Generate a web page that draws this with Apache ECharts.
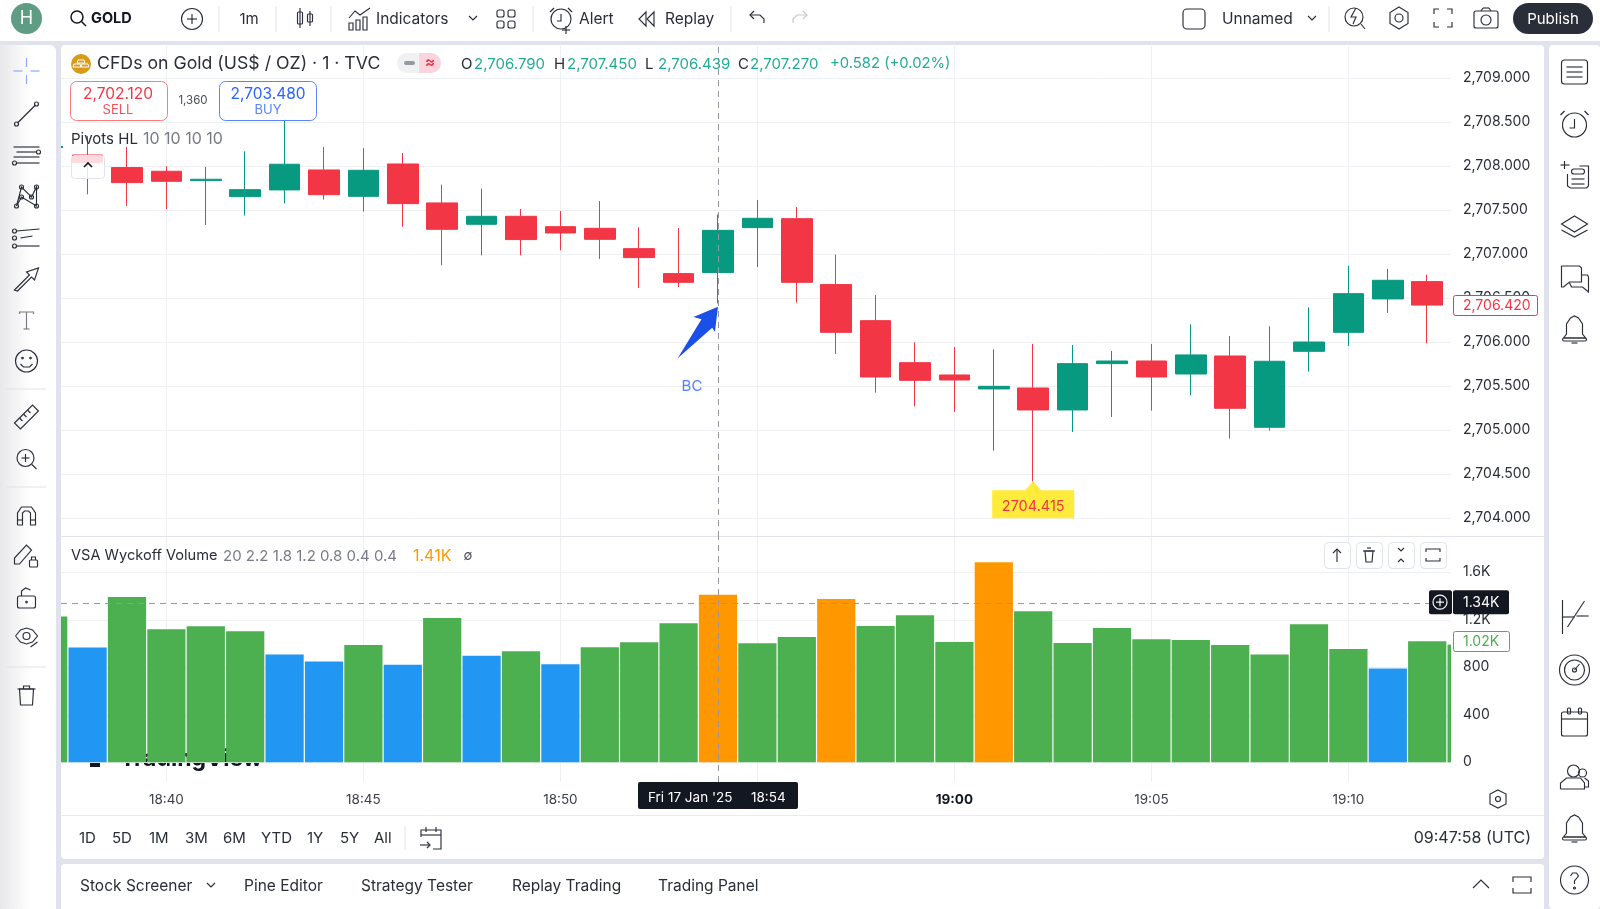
<!DOCTYPE html>
<html>
<head>
    <meta charset="utf-8">
    <title>GOLD 1m</title>
    <script src="https://cdn.jsdelivr.net/npm/echarts@6/dist/echarts.min.js"></script>
    <style>
        html, body { margin: 0; padding: 0; background: #e0e3eb; }
        #main { width: 1600px; height: 909px; }
    </style>
</head>
<body>
<div id="main"></div>

<script>
    // candles (18:54 comes from the OHLC header)
    var candleTimes = ['18:38','18:39','18:40','18:41','18:42','18:43','18:44','18:45','18:46','18:47','18:48','18:49','18:50','18:51','18:52','18:53','18:54','18:55','18:56','18:57','18:58','18:59','19:00','19:01','19:02','19:03','19:04','19:05','19:06','19:07','19:08','19:09','19:10','19:11','19:12'];
    var opens  = [2708.127,2707.984,2707.942,2707.836,2707.654,2707.730,2707.957,2707.657,2708.025,2707.582,2707.339,2707.430,2707.312,2707.293,2707.062,2706.778,2706.790,2707.301,2707.403,2706.653,2706.243,2705.765,2705.625,2705.466,2705.477,2705.227,2705.754,2705.784,2705.636,2705.841,2705.030,2705.894,2706.110,2706.490,2706.687];
    var closes = [2708.040,2707.813,2707.828,2707.851,2707.733,2708.022,2707.676,2707.953,2707.574,2707.282,2707.430,2707.165,2707.240,2707.168,2706.960,2706.679,2707.270,2707.407,2706.679,2706.110,2705.602,2705.564,2705.568,2705.496,2705.227,2705.754,2705.784,2705.602,2705.853,2705.246,2705.781,2706.000,2706.550,2706.702,2706.420];
    var lows   = [2707.680,2707.548,2707.510,2707.331,2707.438,2707.578,2707.620,2707.483,2707.312,2706.872,2706.986,2706.986,2707.043,2706.945,2706.615,2706.626,2706.439,2706.854,2706.448,2705.864,2705.424,2705.269,2705.204,2704.764,2704.415,2704.977,2705.147,2705.219,2705.394,2704.901,2704.992,2705.663,2705.955,2706.330,2705.985];
    var highs  = [2708.344,2708.219,2708.000,2707.991,2708.169,2708.514,2708.219,2708.204,2708.150,2707.790,2707.745,2707.513,2707.491,2707.604,2707.305,2707.297,2707.450,2707.616,2707.536,2706.994,2706.535,2705.997,2705.944,2705.917,2705.978,2705.966,2705.898,2705.978,2706.201,2706.069,2706.179,2706.395,2706.865,2706.831,2706.766];

    // volume pane
    var volumeTimes = ['18:37','18:38','18:39','18:40','18:41','18:42','18:43','18:44','18:45','18:46','18:47','18:48','18:49','18:50','18:51','18:52','18:53','18:54','18:55','18:56','18:57','18:58','18:59','19:00','19:01','19:02','19:03','19:04','19:05','19:06','19:07','19:08','19:09','19:10','19:11','19:12','19:13'];
    var volumes = [1227,966,1392,1120,1145,1103,907,848,988,822,1215,898,935,825,968,1011,1171,1410,1002,1055,1375,1148,1238,1013,1684,1272,1005,1131,1036,1030,988,907,1162,954,789,1020,991];
    var volumeKinds = ['normal','low','normal','normal','normal','normal','low','low','normal','low','normal','low','normal','low','normal','normal','normal','high','normal','normal','high','normal','normal','normal','high','normal','normal','normal','normal','normal','normal','normal','normal','normal','low','normal','normal'];

    // axis ticks
    var gridTimes = ['18:40','18:45','18:50','18:55','19:00','19:05','19:10'];
    var labelTimes = ['18:40','18:45','18:50','19:00','19:05','19:10'];
    var priceTicks = [2704,2704.5,2705,2705.5,2706,2706.5,2707,2707.5,2708,2708.5,2709];
    var volumeTicks = [0,400,800,1200,1600];

    // annotations
    var crossTime = '18:54';
    var crossVolume = 1340;
    var lastVolume = 1020;
    var lastPrice = 2706.420;
    var lowestPrice = 2704.415;
    var lowestTime = '19:02';
    var arrowTip = ['18:54', 2706.402];
    var bcMark = [1133.34, 2705.49];

    var FONT = 'Inter, "Noto Sans", sans-serif';
    var INK = '#2a2e39';
    var RED = '#f23645';
    var TEAL = '#089981';
    var HEADGREEN = '#22ab94';
    var LINE = '#eef0f4';
    var X_MIN = 1117.325, X_MAX = 1152.604;

    function toMinute(t) {
        var p = t.split(':');
        return +p[0] * 60 + +p[1];
    }
    function minuteLabel(v) {
        var m = v % 60;
        return Math.floor(v / 60) + ':' + (m < 10 ? '0' : '') + m;
    }
    function priceLabel(v) {
        return v.toFixed(3).replace(/^(\d)(\d{3})/, '$1,$2');
    }
    function volumeLabel(v) {
        return v >= 1000 ? (v / 1000).toFixed(1) + 'K' : '' + v;
    }

    // ---- screen furniture around the chart
    var furniture = [];

    function box(x, y, w, h, r, fill, stroke, z) {
        furniture.push({
            type: 'rect', z: z, silent: true,
            shape: { x: x, y: y, width: w, height: h, r: r },
            style: { fill: fill, stroke: stroke || null, lineWidth: 1 }
        });
    }
    function txt(s, x, y, size, color, align, weight, z) {
        furniture.push({
            type: 'text', z: z === undefined ? 50 : z, silent: true,
            style: {
                text: s, x: x, y: y + 1, fill: color || INK, fontSize: size, fontFamily: FONT,
                fontWeight: weight || 'normal', align: align || 'left', verticalAlign: 'middle'
            }
        });
    }
    function rule(x1, y1, x2, y2, color, z) {
        furniture.push({
            type: 'line', z: z === undefined ? 50 : z, silent: true,
            shape: { x1: x1, y1: y1, x2: x2, y2: y2 },
            style: { stroke: color, lineWidth: 1 }
        });
    }
    // parts: l line, o circle, b box, p polyline, g closed polygon
    function icon(cx, cy, parts, color, width) {
        var style = { fill: 'none', stroke: color || INK, lineWidth: width || 1.15 };
        parts.forEach(function (a) {
            var el;
            if (a[0] === 'l') el = { type: 'line', shape: { x1: cx + a[1], y1: cy + a[2], x2: cx + a[3], y2: cy + a[4] } };
            if (a[0] === 'o') el = { type: 'circle', shape: { cx: cx + a[1], cy: cy + a[2], r: a[3] } };
            if (a[0] === 'b') el = { type: 'rect', shape: { x: cx + a[1], y: cy + a[2], width: a[3], height: a[4], r: a[5] || 0 } };
            if (a[0] === 'p' || a[0] === 'g') {
                el = { type: a[0] === 'p' ? 'polyline' : 'polygon', shape: { points: a[1].map(function (q) { return [cx + q[0], cy + q[1]]; }) } };
            }
            el.z = 50;
            el.silent = true;
            el.style = style;
            furniture.push(el);
        });
    }

    var HEX = ['g', [[0,-11],[9,-5.5],[9,5.5],[0,11],[-9,5.5],[-9,-5.5]]];
    var BELL = [['p', [[-11,9],[-8,5],[-8,-5],[-4,-11],[0,-13],[4,-11],[8,-5],[8,5],[11,9],[-11,9]]], ['b', -12, 9, 24, 3, 1.5], ['l', -3, 14, 3, 14]];
    var ALARM = [['o', 0, 1, 10], ['p', [[0,-4],[0,3],[-4,3]]], ['l', -11, -6, -7, -10], ['l', 11, -6, 7, -10]];

    function drawFurniture() {
        // panels
        box(0, 0, 1600, 41, 0, '#fff', null, -10);
        box(0, 45, 56, 864, [0, 6, 0, 0], { type: 'linear', x: 0, y: 0, x2: 1, y2: 0, colorStops: [{ offset: 0, color: '#e8e8ea' }, { offset: 0.55, color: '#fff' }] }, null, -10);
        box(61, 45, 1483, 814, 4, '#fff', null, -10);
        box(61, 864, 1483, 50, 4, '#fff', null, -10);
        box(1549, 45, 51, 864, 4, '#fff', null, -10);
        rule(61, 536.5, 1544, 536.5, '#e0e3eb', 1);
        rule(61, 815.5, 1544, 815.5, '#e8eaf0', 1);

        // watermark, sits behind the volume bars
        txt('TradingView', 120, 758, 23, '#131722', 'left', 'bold', -5);
        furniture.push({
            type: 'polygon', z: -5, silent: true,
            shape: { points: [[79,752],[100,752],[100,767],[90,767],[90,758],[79,758]] },
            style: { fill: '#131722' }
        });

        // top toolbar
        furniture.push({ type: 'circle', z: 50, silent: true, shape: { cx: 26.5, cy: 18.5, r: 15.5 }, style: { fill: '#5f9c84' } });
        txt('H', 26.5, 18, 18, '#fff', 'center');
        icon(78, 18, [['o', -1, -1, 6], ['l', 3.5, 3.5, 8, 8]], '#131722', 1.5);
        txt('GOLD', 91, 18, 14.5, '#131722', 'left', 'bold');
        icon(192, 19, [['o', 0, 0, 10.5], ['l', -5, 0, 5, 0], ['l', 0, -5, 0, 5]]);
        [219, 276, 331, 533, 731, 1329].forEach(function (x) { rule(x, 6, x, 32, '#e0e3eb'); });
        txt('1m', 249, 18, 15, INK, 'center');
        icon(305, 18, [['l', -5, -10, -5, 10], ['b', -7.5, -6, 5, 12, 1], ['l', 5, -7, 5, 8], ['b', 2.5, -4, 5, 8, 1]]);
        icon(360, 19, [['p', [[-11,-1],[-5,-8],[0,-4],[10,-11]]], ['b', -11, 4, 4, 7], ['b', -4, 1, 4, 10], ['b', 3, -2, 4, 13]]);
        txt('Indicators', 376, 18, 15.5);
        icon(473, 18, [['p', [[-4,-2],[0,2],[4,-2]]]]);
        icon(506, 19, [['b', -9, -9, 7, 7, 2], ['b', 2, -9, 7, 7, 2], ['b', -9, 2, 7, 7, 2], ['b', 2, 2, 7, 7, 2]]);
        icon(561, 18, ALARM.concat([['l', 1, 12, 9, 12], ['l', 5, 8, 5, 16]]));
        txt('Alert', 579, 18, 15.5);
        icon(647, 19, [['g', [[-1,-7],[-8,0],[-1,7]]], ['g', [[7,-7],[0,0],[7,7]]]]);
        txt('Replay', 665, 18, 15.5);
        icon(757, 18, [['p', [[-3,-7],[-7,-3],[-3,1]]], ['p', [[-7,-3],[3,-3],[7,1],[7,5]]]]);
        icon(800, 18, [['p', [[3,-7],[7,-3],[3,1]]], ['p', [[7,-3],[-3,-3],[-7,1],[-7,5]]]], '#c4c7cf');
        icon(1194, 19, [['b', -11, -10, 22, 20, 4]]);
        txt('Unnamed', 1222, 18, 15.5);
        icon(1312, 18, [['p', [[-4,-2],[0,2],[4,-2]]]]);
        icon(1355, 18, [['o', -1, -1, 9], ['p', [[1,-10],[-4,-1],[1,-1],[-2,6]]], ['l', 6, 6, 10, 11]]);
        icon(1399, 18, [HEX, ['o', 0, 0, 4]]);
        icon(1443, 18, [['p', [[-9,-4],[-9,-9],[-4,-9]]], ['p', [[4,-9],[9,-9],[9,-4]]], ['p', [[-9,4],[-9,9],[-4,9]]], ['p', [[4,9],[9,9],[9,4]]]]);
        icon(1486, 19, [['b', -12, -8, 24, 17, 2], ['o', 0, 1, 5], ['l', -5, -8, -3, -11], ['l', -3, -11, 3, -11], ['l', 3, -11, 5, -8]]);
        box(1513, 3, 80, 31, 15.5, '#2a2e39', null, 50);
        txt('Publish', 1553, 18, 15, '#fff', 'center');

        // left toolbar
        icon(26.5, 71, [['l', 0, -13, 0, -4], ['l', 0, 4, 0, 13], ['l', -13, 0, -4, 0], ['l', 4, 0, 13, 0]], '#8ba7f5');
        icon(26.5, 114, [['l', -9, 9, 9, -9], ['o', -10, 10, 2], ['o', 10, -10, 2]]);
        icon(26.5, 155, [['l', -13, -8, 13, -8], ['l', -10, -3, 10, -3], ['o', 12, -3, 2], ['l', -13, 2, 13, 2], ['l', -10, 8, 13, 8], ['o', -12, 8, 2]]);
        icon(26.5, 196, [['p', [[-10,10],[-5,-9],[5,1],[10,-9],[10,10],[-5,1],[-10,10]]], ['o', -10, 10, 2], ['o', -5, -9, 2], ['o', 5, 1, 2], ['o', -5, 1, 2], ['o', 10, -9, 2], ['o', 10, 10, 2]]);
        icon(26.5, 238, [['l', -10, -7, 13, -9], ['o', -12, -7, 2], ['l', -6, 0, 6, -2], ['o', -12, 0, 2], ['l', -10, 8, 13, 8], ['o', -12, 8, 2]]);
        icon(26.5, 279, [['g', [[-12,11],[3,-4],[0,-7],[12,-11],[8,1],[5,-2],[-9,12]]]]);
        icon(26.5, 320, [['p', [[-7,-6],[-7,-8],[7,-8],[7,-6]]], ['l', 0, -8, 0, 9], ['l', -3, 9, 3, 9]], '#787b86');
        icon(26.5, 361, [['o', 0, 0, 11], ['o', -4, -3, 0.8], ['o', 4, -3, 0.8], ['p', [[-6,3],[-3,6],[3,6],[6,3]]]]);
        rule(6, 389, 46, 389, '#e0e3eb');
        icon(26.5, 417, [['g', [[-12,6],[6,-12],[12,-6],[-6,12]]], ['l', -7, 1, -4, 4], ['l', -3, -3, 0, 0], ['l', 1, -7, 4, -4]]);
        icon(26.5, 459, [['o', -1, -1, 8.5], ['l', -5, -1, 3, -1], ['l', -1, -5, -1, 3], ['l', 5.5, 5.5, 10, 10]]);
        rule(6, 487, 46, 487, '#e0e3eb');
        icon(26.5, 515, [['p', [[-9,10],[-9,-2],[-5,-8],[5,-8],[9,-2],[9,10],[4,10],[4,-2],[2,-4],[-2,-4],[-4,-2],[-4,10],[-9,10]]], ['l', -9, 5, -4, 5], ['l', 4, 5, 9, 5]]);
        icon(26.5, 556, [['g', [[-12,8],[-12,2],[0,-11],[5,-6],[-7,8]]], ['b', 3, 4, 8, 7, 1], ['p', [[5,4],[5,1],[9,1],[9,4]]]]);
        icon(26.5, 598, [['b', -9, -2, 18, 12, 2], ['p', [[-5,-2],[-5,-7],[-1,-10],[4,-8]]], ['o', 0, 4, 0.8]]);
        icon(26.5, 636, [['p', [[-11,0],[-6,-6],[0,-8],[6,-6],[11,0],[6,6],[0,8],[-6,6],[-11,0]]], ['o', 0, 0, 3.5], ['l', 4, 11, 11, 6]]);
        rule(6, 667, 46, 667, '#e0e3eb');
        icon(26.5, 695, [['g', [[-7,-6],[7,-6],[6,10],[-6,10]]], ['l', -9, -6, 9, -6], ['p', [[-3,-6],[-3,-9],[3,-9],[3,-6]]]]);

        // right toolbar
        icon(1574.5, 72, [['b', -13, -12, 26, 24, 3], ['l', -8, -5, 8, -5], ['l', -8, 0, 8, 0], ['l', -8, 5, 8, 5]]);
        icon(1574.5, 124, [['o', 0, 1, 12], ['p', [[0,-5],[0,4],[-5,4]]], ['l', -14, -9, -10, -13], ['l', 14, -9, 10, -13]]);
        icon(1574.5, 176, [['p', [[-7,-2],[-7,10],[-4,12],[12,12],[14,10],[14,-10],[5,-10]]], ['b', -3, -7, 13, 5, 2.5], ['l', -3, 3, 10, 3], ['l', -3, 8, 10, 8], ['l', -14, -11, -5, -11], ['l', -10, -15, -10, -7]]);
        icon(1574.5, 226, [['g', [[0,-10],[13,-2],[0,6],[-13,-2]]], ['p', [[-13,4],[0,11],[13,4]]]]);
        icon(1574.5, 278, [['p', [[-13,-12],[5,-12],[7,-10],[7,4],[-5,4],[-11,9],[-13,9],[-13,-12]]], ['p', [[7,-3],[13,-3],[14,-1],[14,14],[8,9],[-3,9],[-5,5]]]]);
        icon(1574.5, 329, BELL);
        icon(1574.5, 617, [['l', -12, -17, -12, 17], ['l', -12, 0, 0, 0], ['l', -7, 10, 10, -16], ['l', 2, -1, 14, -1]]);
        icon(1574.5, 670, [['o', 0, 0, 15], ['o', 0, 0, 10], ['o', 0, 0, 2], ['l', 0, 0, 5, -6]]);
        icon(1574.5, 723, [['b', -13, -11, 26, 24, 2], ['l', -13, -4, 13, -4], ['b', -7, -15, 3, 6, 1], ['b', 4, -15, 3, 6, 1]]);
        icon(1574.5, 777, [['o', -1, -6, 6], ['o', 8, -4, 4], ['p', [[-14,12],[-14,6],[-8,1],[6,1],[10,6],[10,12],[-14,12]]], ['p', [[10,1],[14,4],[14,10],[10,10]]]]);
        icon(1574.5, 828, BELL);
        icon(1574.5, 880, [['o', 0, 0, 14], ['p', [[-4,-4],[-2,-7],[2,-7],[4,-4],[0,1],[0,4]]], ['o', 0, 8, 1]]);

        // chart header
        furniture.push({ type: 'circle', z: 50, silent: true, shape: { cx: 81, cy: 64, r: 10 }, style: { fill: '#d99a17' } });
        icon(81, 64, [['g', [[-3,-4],[3,-4],[4,-1],[-4,-1]]], ['g', [[-7,0],[-1,0],[0,3],[-8,3]]], ['g', [[1,0],[7,0],[8,3],[0,3]]]], '#fff', 1);
        txt('CFDs on Gold (US$ / OZ) · 1 · TVC', 97, 63, 17.7);
        box(397, 53, 44, 20, 10, '#f0f1f3', null, 50);
        box(419, 53, 22, 20, [0, 10, 10, 0], '#fbd5de', null, 50);
        box(404, 61, 11, 4, 2, '#9598a1', null, 50);
        txt('≈', 430, 61, 15, RED, 'center', 'bold');
        txt('O', 461, 63, 15, INK);
        txt('2,706.790', 474, 63, 15, HEADGREEN);
        txt('H', 554, 63, 15, INK);
        txt('2,707.450', 567, 63, 15, HEADGREEN);
        txt('L', 645, 63, 15, INK);
        txt('2,706.439', 658, 63, 15, HEADGREEN);
        txt('C', 738, 63, 15, INK);
        txt('2,707.270', 750, 63, 15, HEADGREEN);
        txt('+0.582 (+0.02%)', 830, 63, 14.8, HEADGREEN);

        box(70.5, 81.5, 97, 39, 6, '#fff', '#f77c80', 50);
        txt('2,702.120', 118, 93, 15.5, RED, 'center');
        txt('SELL', 118, 109, 13, '#f7525f', 'center');
        txt('1,360', 193, 100, 11.5, '#4a4e59', 'center');
        box(219.5, 81.5, 97, 39, 6, '#fff', '#5b85f7', 50);
        txt('2,703.480', 268, 93, 15.5, '#2962ff', 'center');
        txt('BUY', 268, 109, 13, '#5b85f7', 'center');

        txt('Pivots HL', 71, 138, 15);
        txt('10 10 10 10', 143, 138, 16, '#787b86');
        box(61, 146, 2, 2, 0, TEAL, null, 50);
        box(71.5, 155.5, 33, 23, 3, 'rgba(255,255,255,0.82)', '#e0e3eb', 50);
        icon(88, 165, [['p', [[-4,2],[0,-2],[4,2]]]], '#131722', 1.6);

        // volume header
        txt('VSA Wyckoff Volume', 71, 555, 14.6);
        txt('20 2.2 1.8 1.2 0.8 0.4 0.4', 223, 555, 15, '#787b86');
        txt('1.41K', 413, 555, 16, '#ff9800');
        txt('∅', 468, 555, 13, '#4a4e59', 'center');

        // pane buttons
        [1324, 1356, 1388, 1420].forEach(function (x) { box(x + 0.5, 542.5, 26, 26, 4, '#fff', '#e0e3eb', 50); });
        icon(1337, 555, [['l', 0, -6, 0, 7], ['p', [[-4,-2],[0,-6],[4,-2]]]]);
        icon(1369, 555, [['g', [[-4,-4],[4,-4],[3,7],[-3,7]]], ['l', -6, -4, 6, -4], ['l', -2, -7, 2, -7]]);
        icon(1401, 555, [['p', [[-3,-7],[0,-4],[3,-7]]], ['p', [[-3,7],[0,4],[3,7]]]]);
        icon(1433, 555, [['p', [[-7,-3],[-7,-6],[7,-6],[7,-3]]], ['p', [[-7,3],[-7,6],[7,6],[7,3]]]]);

        // time scale
        box(638, 782, 160, 27, 2, '#131722', null, 50);
        txt("Fri 17 Jan '25", 648, 797, 13.5, '#fff');
        txt('18:54', 751, 797, 13.5, '#fff');
        icon(1498, 799, [['g', [[0,-9],[8,-5],[8,5],[0,9],[-8,5],[-8,-5]]], ['o', 0, 0, 2.5]]);

        // range bar
        [['1D',79],['5D',112],['1M',149],['3M',185],['6M',223],['YTD',261],['1Y',307],['5Y',340],['All',374]].forEach(function (r) {
            txt(r[0], r[1], 837, 15);
        });
        rule(405, 826, 405, 850, '#e0e3eb');
        icon(431, 838, [['p', [[-10,-1],[-10,-8],[10,-8],[10,11],[2,11]]], ['l', -10, -3, 10, -3], ['l', -5, -11, -5, -6], ['l', 5, -11, 5, -6], ['l', -11, 7, -1, 7], ['p', [[-4,4],[-1,7],[-4,10]]]]);
        txt('09:47:58 (UTC)', 1531, 837, 16, INK, 'right');

        // bottom tabs
        [['Stock Screener',80],['Pine Editor',244],['Strategy Tester',361],['Replay Trading',512],['Trading Panel',658]].forEach(function (r) {
            txt(r[0], r[1], 885, 15.5);
        });
        icon(211, 885, [['p', [[-4,-2],[0,2],[4,-2]]]]);
        icon(1481, 884, [['p', [[-8,4],[0,-4],[8,4]]]]);
        icon(1522, 885, [['p', [[-9,-3],[-9,-8],[9,-8],[9,-3]]], ['p', [[-9,3],[-9,8],[9,8],[9,3]]]]);
    }
    drawFurniture();

    // ---- chart marks tied to the axes
    function renderVolume(params, api) {
        var x = api.coord([api.value(0), 0]);
        var top = api.coord([api.value(0), api.value(1)]);
        var w = api.size([1, 0])[0] * 0.97;
        var rect = echarts.graphic.clipRectByRect(
            { x: x[0] - w / 2, y: top[1], width: w, height: x[1] - top[1] },
            { x: params.coordSys.x, y: params.coordSys.y, width: params.coordSys.width, height: params.coordSys.height }
        );
        return rect && {
            type: 'rect', shape: rect,
            style: { fill: kindColors[volumeKinds[params.dataIndex]] }
        };
    }
    function renderArrow(params, api) {
        var tip = api.coord([api.value(0), api.value(1)]);
        var offsets = [[0,0],[-24.5,10.3],[-16.5,12.7],[-40.3,51.7],[-5.8,21],[-3.1,25.3]];
        return {
            type: 'polygon',
            shape: { points: offsets.map(function (o) { return [tip[0] + o[0], tip[1] + o[1]]; }) },
            style: { fill: '#1a4fe8' }
        };
    }
    function renderLowest(params, api) {
        var p = api.coord([api.value(0), api.value(1)]);
        return {
            type: 'group',
            children: [
                { type: 'polygon', shape: { points: [[p[0], p[1]], [p[0] + 8, p[1] + 9], [p[0] + 41, p[1] + 9], [p[0] + 41, p[1] + 37], [p[0] - 41, p[1] + 37], [p[0] - 41, p[1] + 9], [p[0] - 8, p[1] + 9]] }, style: { fill: '#ffeb3b' } },
                { type: 'text', style: { text: lowestPrice.toFixed(3), x: p[0], y: p[1] + 25, fill: RED, font: '14.5px ' + FONT, align: 'center', verticalAlign: 'middle' } }
            ]
        };
    }
    function renderTag(text, fill, stroke, color, w) {
        return function (params, api) {
            var p = api.coord([api.value(0), api.value(1)]);
            return {
                type: 'group',
                children: [
                    { type: 'rect', shape: { x: p[0] + 2.5, y: Math.round(p[1]) - 9.5, width: w, height: 20, r: 2 }, style: { fill: fill, stroke: stroke, lineWidth: 1 } },
                    { type: 'text', style: { text: text, x: p[0] + 12, y: p[1] + 1, fill: color, font: '14px ' + FONT, align: 'left', verticalAlign: 'middle' } }
                ]
            };
        };
    }
    function renderCrossTag(params, api) {
        var p = api.coord([api.value(0), api.value(1)]);
        var cx = p[0] - 11;
        return {
            type: 'group',
            children: [
                { type: 'rect', shape: { x: p[0] - 22, y: p[1] - 13, width: 23, height: 24, r: 2 }, style: { fill: '#131722' } },
                { type: 'circle', shape: { cx: cx, cy: p[1] - 1, r: 7 }, style: { fill: 'none', stroke: '#fff', lineWidth: 1.2 } },
                { type: 'line', shape: { x1: cx - 4, y1: p[1] - 1, x2: cx + 4, y2: p[1] - 1 }, style: { stroke: '#fff', lineWidth: 1.2 } },
                { type: 'line', shape: { x1: cx, y1: p[1] - 5, x2: cx, y2: p[1] + 3 }, style: { stroke: '#fff', lineWidth: 1.2 } },
                { type: 'rect', shape: { x: p[0] + 2, y: p[1] - 13, width: 56, height: 24, r: 2 }, style: { fill: '#131722' } },
                { type: 'text', style: { text: (crossVolume / 1000).toFixed(2) + 'K', x: p[0] + 12, y: p[1], fill: '#fff', font: '14px ' + FONT, align: 'left', verticalAlign: 'middle' } }
            ]
        };
    }

    var kindColors = { normal: '#4caf50', low: '#2196f3', high: '#ff9800' };

    var candleData = candleTimes.map(function (t, i) {
        return [toMinute(t), opens[i], closes[i], lows[i], highs[i]];
    });
    var volumeData = volumeTimes.map(function (t, i) {
        return [toMinute(t), volumes[i]];
    });

    function crossLine(extra) {
        return {
            symbol: 'none', silent: true, animation: false,
            label: { show: false },
            lineStyle: { color: '#9598a1', type: [6, 5], width: 1 },
            data: extra
        };
    }

    function timeAxis(gridIndex, withLabels) {
        return {
            type: 'value', gridIndex: gridIndex, min: X_MIN, max: X_MAX, scale: true,
            axisLine: { show: false },
            axisTick: { show: false, customValues: gridTimes.map(toMinute) },
            splitLine: { show: true, lineStyle: { color: LINE, width: 1 } },
            axisLabel: {
                show: withLabels, margin: 11, fontFamily: FONT, fontSize: 13.5, color: '#3a3e49',
                customValues: labelTimes.map(toMinute), hideOverlap: false,
                formatter: function (v) {
                    var s = minuteLabel(v);
                    return s === '19:00' ? '{bold|' + s + '}' : s;
                },
                rich: { bold: { fontWeight: 'bold', fontFamily: FONT, fontSize: 13.5, color: '#131722' } }
            }
        };
    }

    var chart = echarts.init(document.getElementById('main'), null, { width: 1600, height: 909 });
    chart.setOption({
        animation: false,
        backgroundColor: '#e0e3eb',
        textStyle: { fontFamily: FONT },
        grid: [
            { left: 61, width: 1390, top: 46, height: 491 },
            { left: 61, width: 1390, top: 537, height: 245 }
        ],
        xAxis: [timeAxis(0, false), timeAxis(1, true)],
        yAxis: [
            {
                type: 'value', gridIndex: 0, position: 'right', min: 2703.782, max: 2709.367, scale: true,
                axisLine: { show: false },
                axisTick: { show: false, customValues: priceTicks },
                splitLine: { show: true, lineStyle: { color: LINE, width: 1 } },
                axisLabel: {
                    customValues: priceTicks, margin: 12, fontFamily: FONT, fontSize: 14, color: '#2a2e39',
                    formatter: priceLabel
                }
            },
            {
                type: 'value', gridIndex: 1, position: 'right', min: -166, max: 1897,
                axisLine: { show: false },
                axisTick: { show: false, customValues: volumeTicks },
                splitLine: { show: true, lineStyle: { color: LINE, width: 1 } },
                axisLabel: {
                    customValues: volumeTicks, margin: 12, fontFamily: FONT, fontSize: 14, color: '#2a2e39',
                    padding: [2, 0, 0, 0], formatter: volumeLabel
                }
            }
        ],
        graphic: { elements: furniture },
        series: [
            {
                type: 'candlestick', name: 'GOLD', xAxisIndex: 0, yAxisIndex: 0,
                data: candleData,
                encode: { x: 0, y: [1, 2, 3, 4] },
                barWidth: 31,
                itemStyle: { color: TEAL, color0: RED, borderColor: TEAL, borderColor0: RED, borderWidth: 1 },
                markLine: crossLine([{ xAxis: toMinute(crossTime) }])
            },
            {
                // the two outer bars are cut off by the pane, a bar series on a value axis does not clip them
                type: 'custom', name: 'VSA Wyckoff Volume', xAxisIndex: 1, yAxisIndex: 1, z: 2, silent: true,
                data: volumeData,
                encode: { x: 0, y: 1 },
                renderItem: renderVolume,
                markLine: crossLine([{ xAxis: toMinute(crossTime) }, { yAxis: crossVolume }])
            },
            {
                type: 'custom', name: 'arrow', xAxisIndex: 0, yAxisIndex: 0, z: 6, silent: true,
                data: [[toMinute(arrowTip[0]), arrowTip[1]]],
                renderItem: renderArrow
            },
            {
                type: 'scatter', name: 'BC', xAxisIndex: 0, yAxisIndex: 0, symbolSize: 0, silent: true,
                data: [bcMark],
                label: { show: true, position: 'inside', formatter: 'BC', color: '#2962ff', fontSize: 15, fontFamily: FONT }
            },
            {
                type: 'custom', name: 'lowest', xAxisIndex: 0, yAxisIndex: 0, z: 6, silent: true,
                data: [[toMinute(lowestTime), lowestPrice]],
                renderItem: renderLowest
            },
            {
                type: 'custom', name: 'last price', xAxisIndex: 0, yAxisIndex: 0, z: 6, silent: true,
                data: [[X_MAX, lastPrice]],
                renderItem: renderTag(priceLabel(lastPrice), '#fff', RED, RED, 84)
            },
            {
                type: 'custom', name: 'last volume', xAxisIndex: 1, yAxisIndex: 1, z: 6, silent: true,
                data: [[X_MAX, lastVolume]],
                renderItem: renderTag((lastVolume / 1000).toFixed(2) + 'K', '#fff', '#4caf50', '#4caf50', 56)
            },
            {
                type: 'custom', name: 'cross volume', xAxisIndex: 1, yAxisIndex: 1, z: 7, silent: true,
                data: [[X_MAX, crossVolume]],
                renderItem: renderCrossTag
            }
        ]
    });
</script>
</body>
</html>
